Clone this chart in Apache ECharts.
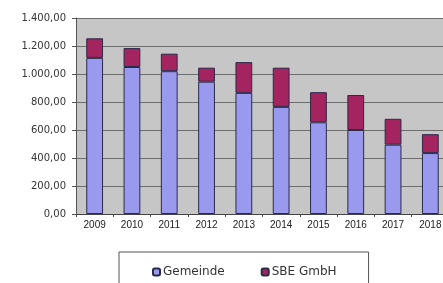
<!DOCTYPE html>
<html>
<head>
<meta charset="utf-8">
<script src="https://cdn.jsdelivr.net/npm/echarts@6/dist/echarts.min.js"></script>
<style>
    html, body { margin: 0; padding: 0; background: #fff; }
    #chart { width: 443px; height: 283px; }
</style>
</head>
<body>
<div id="chart"></div>
<script>
// Jahre und Werte
const jahre = ['2009', '2010', '2011', '2012', '2013', '2014', '2015', '2016', '2017', '2018'];
const gemeinde = [1115, 1050, 1020, 945, 865, 765, 655, 600, 495, 435];
const sbe = [140, 135, 125, 100, 220, 280, 215, 250, 185, 135];

// deutsches Zahlenformat: 1.400,00
function formatDE(v) {
    let ganz = Math.floor(v).toString().replace(/\B(?=(\d{3})+(?!\d))/g, '.');
    return ganz + ',00';
}

let chart = echarts.init(document.getElementById('chart'));

let options = {
    animation: false,
    textStyle: { fontFamily: 'Liberation Sans, Arial, sans-serif' },
    grid: {
        left: 76,
        top: 18,
        bottom: 69,
        width: 373, // Diagramm ist rechts abgeschnitten
        outerBoundsMode: 'none',
        show: true,
        backgroundColor: '#c6c6c6',
        borderWidth: 0
    },
    legend: {
        data: ['Gemeinde', 'SBE GmbH'],
        left: 119,
        top: 252,
        orient: 'horizontal',
        padding: [14, 32, 20, 33],
        itemWidth: 7,
        itemHeight: 7,
        itemGap: 36,
        borderColor: '#555',
        borderWidth: 1,
        backgroundColor: '#fff',
        textStyle: {
            fontFamily: 'DejaVu Sans, sans-serif',
            fontSize: 12,
            color: '#333',
            padding: [0, 0, 0, -2]
        }
    },
    xAxis: {
        type: 'category',
        data: jahre,
        axisLine: { lineStyle: { color: '#444' } },
        axisTick: { show: true, length: 3, lineStyle: { color: '#444' } },
        axisLabel: { fontSize: 10, color: '#222', margin: 6 }
    },
    yAxis: {
        type: 'value',
        min: 0,
        max: 1400,
        interval: 200,
        axisLine: { show: true, lineStyle: { color: '#555' } },
        axisTick: { show: true, length: 4, lineStyle: { color: '#555' } },
        axisLabel: {
            fontFamily: 'DejaVu Sans, sans-serif',
            fontSize: 10,
            color: '#333',
            margin: 10,
            formatter: formatDE
        },
        splitLine: { lineStyle: { color: '#6e6e6e', width: 1 } }
    },
    series: [
        {
            name: 'Gemeinde',
            type: 'bar',
            stack: 'summe',
            data: gemeinde,
            barWidth: '45%',
            itemStyle: { color: '#9999ee', borderColor: '#2a2a4a', borderWidth: 1 }
        },
        {
            name: 'SBE GmbH',
            type: 'bar',
            stack: 'summe',
            data: sbe,
            barWidth: '45%',
            itemStyle: { color: '#a3245e', borderColor: '#2a2a4a', borderWidth: 1 }
        }
    ]
};

chart.setOption(options);
</script>
</body>
</html>
